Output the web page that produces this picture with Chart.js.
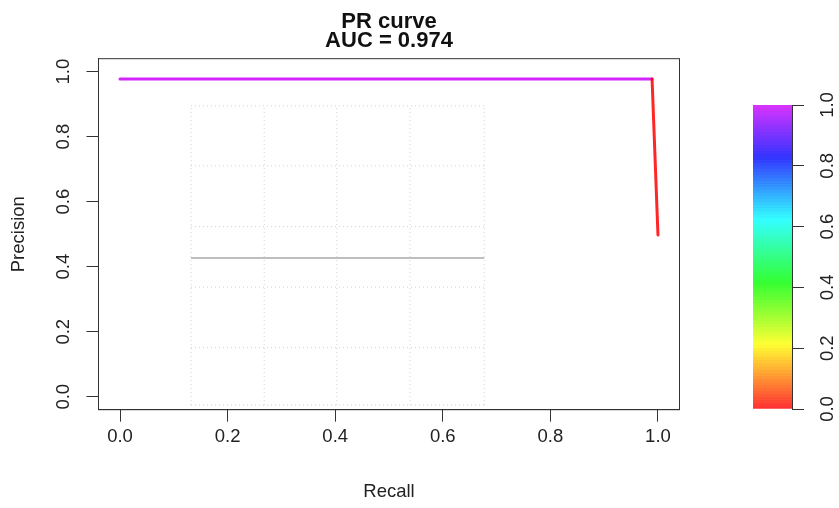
<!DOCTYPE html>
<html>
<head>
<meta charset="utf-8">
<script src="https://cdn.jsdelivr.net/npm/chart.js@4/dist/chart.umd.min.js"></script>
<style>
  html, body { margin: 0; padding: 0; background: #fff; }
  #wrap { position: relative; width: 839px; height: 508px; }
  #pr { position: absolute; left: 0; top: 0; }
  #scale { position: absolute; left: 740px; top: 0; }
</style>
</head>
<body>
<div id="wrap">
  <canvas id="pr" width="839" height="508"></canvas>
  <canvas id="scale" width="99" height="508"></canvas>
</div>
<script>
// PR curve points (recall, precision) and the classification threshold at each point
const recall    = [0.0, 0.989, 1.0];
const precision = [0.9775, 0.9775, 0.4975];
const threshold = [1.0, 1.0, 0.0];

const titleLines = ['PR curve', 'AUC = 0.974'];
const axisTicks  = [0, 0.2, 0.4, 0.6, 0.8, 1.0];

// random-classifier baseline
const baselineX = [0.132, 0.677];
const baselineY = 0.427;

// dotted reference grid behind the baseline
const gridX = [0.132, 0.268, 0.403, 0.539, 0.677];
const gridY = [-0.026, 0.151, 0.337, 0.523, 0.71, 0.895];

// threshold colour scale
const scaleRange = [0, 1];
const scaleSteps = 100;

const FONT = "'Liberation Sans', Arial, Helvetica, sans-serif";
const INK = '#222';
const AXIS = '#333';
const TXT = 18.5;

// rainbow ramp, red (0) -> purple (1)
function rampColor(t, a) {
  const h = t * 0.8 * 6;
  const i = Math.floor(h) % 6;
  const f = h - Math.floor(h);
  const q = 1 - f;
  let r, g, b;
  switch (i) {
    case 0: r = 1; g = f; b = 0; break;
    case 1: r = q; g = 1; b = 0; break;
    case 2: r = 0; g = 1; b = f; break;
    case 3: r = 0; g = q; b = 1; break;
    case 4: r = f; g = 0; b = 1; break;
    default: r = 1; g = 0; b = q;
  }
  return `rgba(${Math.round(r * 255)},${Math.round(g * 255)},${Math.round(b * 255)},${a})`;
}

const fixedTicks = (scale) => { scale.ticks = axisTicks.map(v => ({ value: v })); };

// plot frame around the chart area
const frame = {
  id: 'frame',
  afterDatasetsDraw(chart) {
    const { ctx, chartArea: a } = chart;
    ctx.save();
    ctx.strokeStyle = AXIS;
    ctx.lineWidth = 1;
    ctx.strokeRect(a.left, a.top, a.right - a.left, a.bottom - a.top);
    ctx.restore();
  }
};

const gridStyle = { borderColor: '#cfcfcf', borderWidth: 1, borderDash: [1, 3], pointRadius: 0, fill: false, order: 3 };
const gridSets = [
  ...gridX.map(gx => ({ ...gridStyle, data: [{ x: gx, y: gridY[0] }, { x: gx, y: gridY[gridY.length - 1] }] })),
  ...gridY.map(gy => ({ ...gridStyle, data: [{ x: gridX[0], y: gy }, { x: gridX[gridX.length - 1], y: gy }] }))
];

new Chart(document.getElementById('pr'), {
  type: 'line',
  data: {
    datasets: [
      {
        data: recall.map((r, i) => ({ x: r, y: precision[i] })),
        borderWidth: 3,
        borderCapStyle: 'round',
        borderJoinStyle: 'round',
        pointRadius: 0,
        fill: false,
        order: 0,
        borderColor: rampColor(threshold[0], 0.85),
        segment: { borderColor: c => rampColor(threshold[c.p1DataIndex], 0.85) }
      },
      {
        data: baselineX.map(x => ({ x, y: baselineY })),
        borderColor: '#bebebe',
        borderWidth: 2,
        pointRadius: 0,
        fill: false,
        order: 1
      },
      ...gridSets
    ]
  },
  options: {
    responsive: false,
    devicePixelRatio: 1,
    animation: false,
    events: [],
    layout: { padding: { left: 0, right: 159.5, top: 0, bottom: 0 } },
    plugins: {
      legend: { display: false },
      tooltip: { enabled: false },
      title: {
        display: true,
        text: titleLines,
        fullSize: false,
        color: '#111',
        font: { family: FONT, size: 22, weight: 'bold', lineHeight: 0.87 },
        padding: { top: 12.5, bottom: 7.9 }
      }
    },
    scales: {
      x: {
        type: 'linear',
        min: -0.04, max: 1.04,
        afterBuildTicks: fixedTicks,
        afterFit: s => { s.height = 98.3; },
        grid: { drawOnChartArea: false, drawTicks: true, tickLength: 12, tickColor: AXIS, color: AXIS },
        border: { display: true, color: AXIS },
        ticks: { color: INK, font: { family: FONT, size: TXT }, padding: 4.5, maxRotation: 0, callback: v => v.toFixed(1) },
        title: { display: true, text: 'Recall', color: INK, font: { family: FONT, size: TXT }, padding: { top: 0, bottom: 5 } }
      },
      y: {
        type: 'linear',
        min: -0.04, max: 1.04,
        afterBuildTicks: fixedTicks,
        afterFit: s => { s.width = 98.5; },
        grid: { drawOnChartArea: false, drawTicks: true, tickLength: 12, tickColor: AXIS, color: AXIS },
        border: { display: true, color: AXIS },
        ticks: { color: INK, font: { family: FONT, size: TXT }, padding: 9.5, minRotation: 90, maxRotation: 90, crossAlign: 'center', callback: v => v.toFixed(1) },
        title: { display: true, text: 'Precision', color: INK, font: { family: FONT, size: TXT }, padding: { top: 8, bottom: 0 } }
      }
    }
  },
  plugins: [frame]
});

// colour key for the threshold
function rampGradient(ctx) {
  const chart = ctx.chart;
  const a = chart.chartArea;
  if (!a) return rampColor(0.5, 0.8);
  const g = chart.ctx.createLinearGradient(0, a.bottom, 0, a.top);
  for (let i = 0; i < scaleSteps; i++) {
    const c = rampColor(i / (scaleSteps - 1), 0.8);
    g.addColorStop(i / scaleSteps, c);
    g.addColorStop((i + 1) / scaleSteps - 0.0005, c);
  }
  return g;
}

new Chart(document.getElementById('scale'), {
  type: 'bar',
  data: {
    labels: [''],
    datasets: [{
      data: [scaleRange],
      backgroundColor: rampGradient,
      borderWidth: 0,
      categoryPercentage: 1,
      barPercentage: 1
    }]
  },
  options: {
    responsive: false,
    devicePixelRatio: 1,
    animation: false,
    events: [],
    layout: { padding: { left: 13, right: 0, top: 105, bottom: 99 } },
    plugins: { legend: { display: false }, tooltip: { enabled: false } },
    scales: {
      x: { display: false },
      y: {
        position: 'right',
        min: scaleRange[0], max: scaleRange[1],
        afterBuildTicks: fixedTicks,
        afterFit: s => { s.width = 47; },
        grid: { drawOnChartArea: false, drawTicks: true, tickLength: 12, tickColor: AXIS, color: AXIS },
        border: { display: true, color: AXIS },
        ticks: { color: INK, font: { family: FONT, size: TXT }, padding: 11, minRotation: 90, maxRotation: 90, crossAlign: 'center', callback: v => v.toFixed(1) }
      }
    }
  }
});
</script>
</body>
</html>
